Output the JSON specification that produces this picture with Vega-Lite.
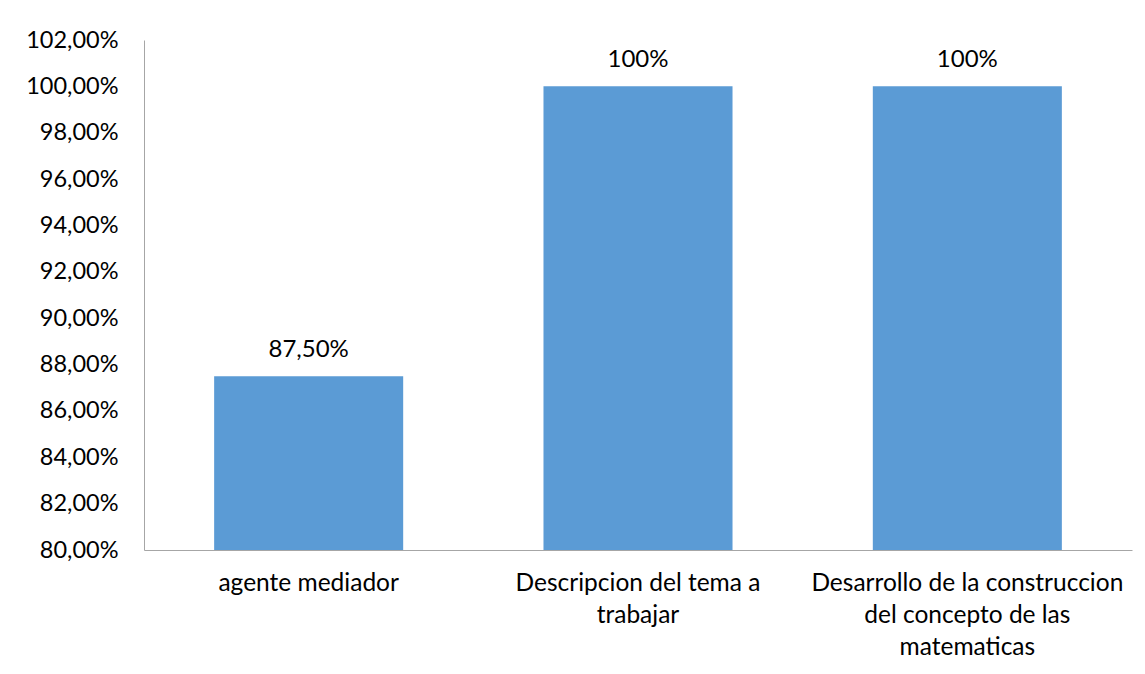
{
  "$schema": "https://vega.github.io/schema/vega-lite/v6.json",
  "width": 988,
  "height": 510,
  "autosize": {"type": "none"},
  "padding": {"left": 144, "top": 40, "right": 13, "bottom": 124},
  "background": "white",
  "config": {
    "view": {"stroke": null},
    "locale": {"number": {"decimal": ",", "thousands": ".", "grouping": [3], "currency": ["", "€"]}},
    "font": "Lato"
  },
  "data": {
    "values": [
      {"categoria": "agente mediador", "valor": 0.875, "etiqueta": "87,50%"},
      {"categoria": "Descripcion del tema a trabajar", "valor": 1.0, "etiqueta": "100%"},
      {"categoria": "Desarrollo de la construccion del concepto de las matematicas", "valor": 1.0, "etiqueta": "100%"}
    ]
  },
  "encoding": {
    "x": {
      "field": "categoria",
      "type": "nominal",
      "sort": null,
      "scale": {"paddingInner": 0.426, "paddingOuter": 0.213},
      "axis": {
        "title": null,
        "labelAngle": 0,
        "ticks": false,
        "domainColor": "#A6A6A6",
        "labelFont": "Lato",
        "labelFontSize": 24.5,
        "labelColor": "#000000",
        "labelPadding": 21,
        "labelLineHeight": 32,
        "labelLimit": 400,
        "labelExpr": "datum.value == 'Descripcion del tema a trabajar' ? ['Descripcion del tema a', 'trabajar'] : datum.value == 'agente mediador' ? 'agente mediador' : ['Desarrollo de la construccion', 'del concepto de las', 'matematicas']"
      }
    },
    "y": {
      "field": "valor",
      "type": "quantitative",
      "scale": {"domain": [0.8, 1.02], "zero": false, "nice": false},
      "axis": {
        "title": null,
        "format": ".2%",
        "values": [0.8, 0.82, 0.84, 0.86, 0.88, 0.9, 0.92, 0.94, 0.96, 0.98, 1.0, 1.02],
        "grid": false,
        "ticks": false,
        "domainColor": "#A6A6A6",
        "labelFont": "Lato",
        "labelFontSize": 23.5,
        "labelColor": "#000000",
        "labelPadding": 26
      }
    }
  },
  "layer": [
    {
      "mark": {"type": "bar", "color": "#5B9BD5"},
      "encoding": {"y2": {"datum": 0.8}}
    },
    {
      "mark": {"type": "text", "baseline": "bottom", "dy": -14, "fontSize": 24, "font": "Lato", "color": "#000000"},
      "encoding": {"text": {"field": "etiqueta"}}
    }
  ]
}
